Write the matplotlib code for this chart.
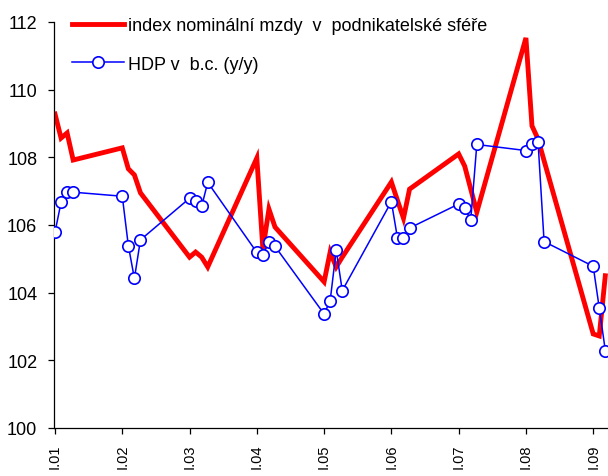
import matplotlib
matplotlib.use("Agg")
import matplotlib.pyplot as plt

plt.rcParams['font.family'] = ['Liberation Sans', 'DejaVu Sans']

years = [2001, 2002, 2003, 2004, 2005, 2006, 2007, 2008, 2009]
quarter_offsets = [0.0, 0.09, 0.18, 0.27]
tick_labels = ["I.01", "I.02", "I.03", "I.04", "I.05", "I.06", "I.07", "I.08", "I.09"]

wage_index = [
    109.28, 108.57, 108.72, 107.92,
    108.28, 107.66, 107.48, 106.95,
    105.05, 105.20, 105.05, 104.76,
    107.98, 105.29, 106.47, 105.94,
    104.32, 105.20, 104.76, 105.05,
    107.27, 106.73, 106.20, 107.06,
    108.10, 107.74, 107.06, 106.38,
    111.53, 108.93, 108.54, 107.90,
    102.78, 102.72, 104.50,
]
gdp = [
    105.79, 106.67, 106.97, 106.97,
    106.85, 105.39, 104.42, 105.56,
    106.79, 106.72, 106.55, 107.26,
    105.19, 105.12, 105.49, 105.37,
    103.37, 103.76, 105.26, 104.06,
    106.69, 105.62, 105.62, 105.91,
    106.62, 106.49, 106.16, 108.38,
    108.20, 108.39, 108.46, 105.51,
    104.78, 103.55, 102.29,
]

label_wage = "index nominální mzdy  v  podnikatelské sféře"
label_gdp = "HDP v  b.c. (y/y)"

x = [y + q for y in years for q in quarter_offsets][:len(gdp)]

fig = plt.figure(figsize=(6.08, 4.77), dpi=100)
ax = fig.add_axes([54/608, 48/477, 554/608, 406/477])

ax.plot(x, wage_index, color='#FF0000', lw=3.5, solid_joinstyle='miter', zorder=2,
        label=label_wage)
ax.plot(x, gdp, color='#0000FF', lw=1.1, marker='o', markersize=8.2,
        markerfacecolor='white', markeredgecolor='#0000FF', markeredgewidth=1.2,
        zorder=3, label=label_gdp)

ax.set_xlim(2000.985, 2009.22)
ax.set_ylim(100, 112)
ax.set_yticks(range(100, 113, 2))
ax.set_xticks(years)
ax.set_xticklabels(tick_labels, rotation=90, fontsize=10.5)
for lab in ax.get_yticklabels():
    lab.set_fontsize(13)

ax.spines['top'].set_visible(False)
ax.spines['right'].set_visible(False)
ax.spines['left'].set_linewidth(0.9)
ax.spines['bottom'].set_linewidth(0.9)
ax.tick_params(axis='y', direction='out', length=4, width=0.9, pad=8)
ax.tick_params(axis='x', direction='out', length=4, width=0.9, pad=7.5)

leg = ax.legend(loc='upper left', bbox_to_anchor=(72/608, 1 - 18/477),
                bbox_transform=fig.transFigure, frameon=False, fontsize=13,
                borderpad=0, borderaxespad=0, handlelength=2.9,
                handletextpad=0.2, labelspacing=1.2)

fig.savefig("out.png", dpi=100)
